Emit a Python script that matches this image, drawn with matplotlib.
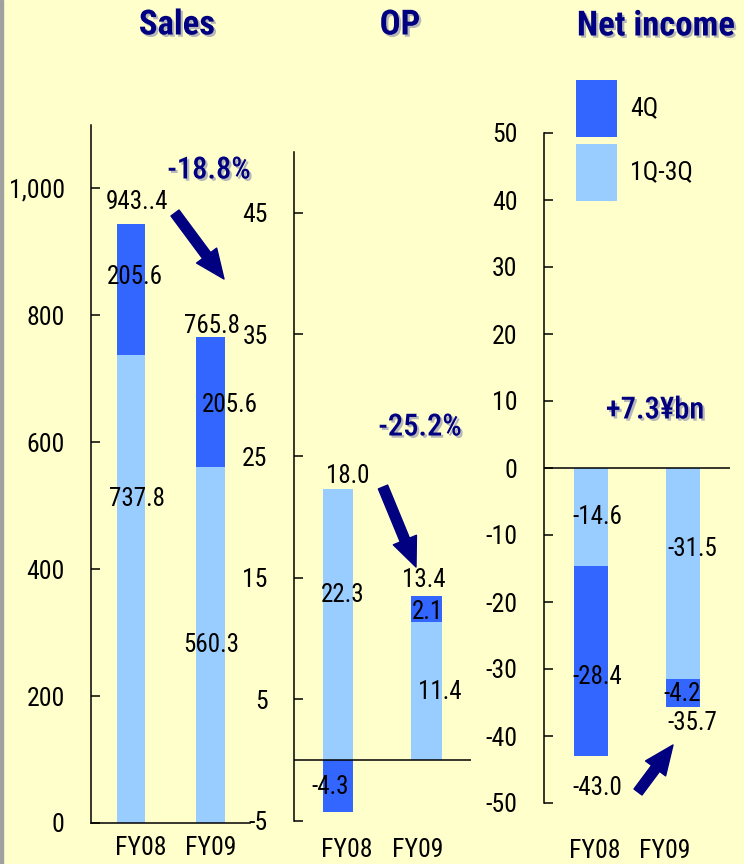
import matplotlib
matplotlib.use('Agg')
import matplotlib.pyplot as plt
from matplotlib import font_manager, patheffects
from matplotlib.patches import Rectangle, FancyArrowPatch
from matplotlib.transforms import blended_transform_factory
from matplotlib.ticker import FuncFormatter

_fonts = font_manager.fontManager.ttflist
names = {f.name for f in _fonts}
prefs = ['Liberation Sans Narrow', 'Arial Narrow', 'Roboto Condensed', 'Archivo Narrow',
         'PT Sans Narrow', 'Pragati Narrow', 'Sofia Sans Condensed', 'Liberation Sans']
FONT = next(p for p in prefs if p in names)
bold_prefs = [p for p in prefs if any(f.name == p and f.weight in (700, 'bold') for f in _fonts)]
BFONT = bold_prefs[0] if bold_prefs else FONT
plt.rcParams['font.family'] = [FONT, 'DejaVu Sans']
plt.rcParams['axes.unicode_minus'] = False

# ---------------- data ----------------
years = ['FY08', 'FY09']
series_names = ['4Q', '1Q-3Q']

sales_q13 = [737.8, 560.3]
sales_q4 = [205.6, 205.5]
sales_q13_labels = ['737.8', '560.3']
sales_q4_labels = ['205.6', '205.6']
sales_total_labels = ['943..4', '765.8']
sales_ticks = [0, 200, 400, 600, 800, 1000]

op_q13 = [22.3, 11.4]
op_q4 = [-4.3, 2.1]
op_q13_labels = ['22.3', '11.4']
op_q4_labels = ['-4.3', '2.1']
op_total_labels = ['18.0', '13.4']
op_ticks = [-5, 5, 15, 25, 35, 45]

ni_q13 = [-14.6, -31.5]
ni_q4 = [-28.4, -4.2]
ni_q13_labels = ['-14.6', '-31.5']
ni_q4_labels = ['-28.4', '-4.2']
ni_total_labels = ['-43.0', '-35.7']
ni_ticks = [-50, -40, -30, -20, -10, 0, 10, 20, 30, 40, 50]

changes = ['-18.8%', '-25.2%', '+7.3¥bn']
titles = ['Sales', 'OP', 'Net income']

# ---------------- style / layout ----------------
C4 = '#3366FF'
C13 = '#99CCFF'
NAVY = '#000080'
BG = '#FFFFCC'
W, H = 744, 864
FS = 18

def fx(px):
    return px / W

def fy(py):
    return 1 - py / H

shadow = [patheffects.withSimplePatchShadow(offset=(1.6, -1.6), shadow_rgbFace='#8888aa', alpha=0.6)]

fig = plt.figure(figsize=(W / 100, H / 100), dpi=100, facecolor=BG)
fig.add_artist(Rectangle((0, 0), 3 / W, 1, transform=fig.transFigure, color='#a0a0a0', zorder=10))


def make_ax(l, r, t, b, xlim, ylim):
    ax = fig.add_axes([fx(l), fy(b), (r - l) / W, (b - t) / H])
    ax.set_facecolor('none')
    ax.set_xlim(*xlim)
    ax.set_ylim(*ylim)
    for s in ('top', 'right'):
        ax.spines[s].set_visible(False)
    ax.spines['left'].set_linewidth(1.1)
    ax.spines['bottom'].set_linewidth(1.1)
    ax.set_xticks([])
    ax.tick_params(axis='y', direction='in', length=6.5, width=1.1, labelsize=FS + 0.5, pad=19)
    return ax


def draw_stack(ax, q13, q4, width):
    xs = list(range(len(q13)))
    bottoms = [a if (a >= 0) == (b >= 0) else 0 for a, b in zip(q13, q4)]
    ax.bar(xs, q13, width=width, color=C13, zorder=2)
    ax.bar(xs, q4, bottom=bottoms, width=width, color=C4, zorder=2)


def put_labels(ax, labels, pos):
    for i, (lab, (dx, y)) in enumerate(zip(labels, pos)):
        ax.text(i + dx, y, lab, ha='center', va='center', fontsize=FS, zorder=5)


def year_labels(ax, offsets, ypx):
    tr = blended_transform_factory(ax.transData, fig.transFigure)
    for i, (yr, dx) in enumerate(zip(years, offsets)):
        ax.text(i + dx, fy(ypx), yr, transform=tr, ha='center', va='center', fontsize=FS + 0.5)


# Sales
ax1 = make_ax(91, 250, 125, 823, (-0.5, 1.49), (0, 1100))
draw_stack(ax1, sales_q13, sales_q4, 0.36)
ax1.set_yticks(sales_ticks)
ax1.yaxis.set_major_formatter(FuncFormatter(lambda v, p: f'{v:,.0f}'))
put_labels(ax1, sales_total_labels, [(0.075, 978), (0.01, 784)])
put_labels(ax1, sales_q4_labels, [(0.05, 860), (0.24, 658)])
put_labels(ax1, sales_q13_labels, [(0.075, 511), (0.0, 281)])
year_labels(ax1, [0.125, 0.0], 848)

# OP
ax2 = make_ax(294, 471, 152, 821, (-0.5, 1.51), (-5, 50))
ax2.spines['bottom'].set_visible(False)
ax2.axhline(0, color='black', lw=1.1, zorder=3)
draw_stack(ax2, op_q13, op_q4, 0.35)
ax2.set_yticks(op_ticks)
put_labels(ax2, op_total_labels, [(0.11, 23.4), (-0.03, 14.8)])
put_labels(ax2, op_q13_labels, [(0.05, 13.6), (0.16, 5.6)])
put_labels(ax2, op_q4_labels, [(-0.09, -2.2), (0.02, 12.2)])
year_labels(ax2, [0.1, -0.1], 850)

# Net income
ax3 = make_ax(544, 730, 133, 803, (-0.51, 1.51), (-50, 50))
ax3.spines['bottom'].set_visible(False)
ax3.axhline(0, color='black', lw=1.1, zorder=3)
draw_stack(ax3, ni_q13, ni_q4, 0.37)
ax3.set_yticks(ni_ticks)
put_labels(ax3, ni_q13_labels, [(0.065, -7.3), (0.1, -12.1)])
put_labels(ax3, ni_q4_labels, [(0.065, -31.2), (-0.01, -33.7)])
put_labels(ax3, ni_total_labels, [(0.065, -47.8), (0.1, -38.1)])
year_labels(ax3, [0.04, -0.2], 851)

# Titles and change annotations
for t, (x, y) in zip(titles, [(177, 25), (400, 25), (656, 26)]):
    fig.text(fx(x), fy(y), t, ha='center', va='center', fontsize=25, fontweight='bold',
             family=[BFONT, 'DejaVu Sans'], color=NAVY, path_effects=shadow)
for t, (x, y) in zip(changes, [(209, 170), (420, 427), (655, 410)]):
    fig.text(fx(x), fy(y), t, ha='center', va='center', fontsize=22, fontweight=500,
             color=NAVY, path_effects=shadow)

# Arrows
for (a, b) in [((175, 213), (224, 279)), ((383, 487), (416, 567)), ((638, 792), (673, 745))]:
    arr = FancyArrowPatch((fx(a[0]), fy(a[1])), (fx(b[0]), fy(b[1])), transform=fig.transFigure,
                          arrowstyle='simple,head_length=2.1,head_width=1.8,tail_width=0.72',
                          mutation_scale=10, color=NAVY, shrinkA=0, shrinkB=0)
    fig.add_artist(arr)

# Legend (key swatches + labels)
for name, col, (top, bot) in zip(series_names, [C4, C13], [(80, 137), (144, 201)]):
    fig.add_artist(Rectangle((fx(576), fy(bot)), 41 / W, (bot - top) / H,
                             transform=fig.transFigure, facecolor=col, edgecolor='none'))
    fig.text(fx(630), fy((top + bot) / 2), name, ha='left', va='center', fontsize=FS + 0.5)

fig.savefig('out.png', dpi=100, facecolor=BG)
